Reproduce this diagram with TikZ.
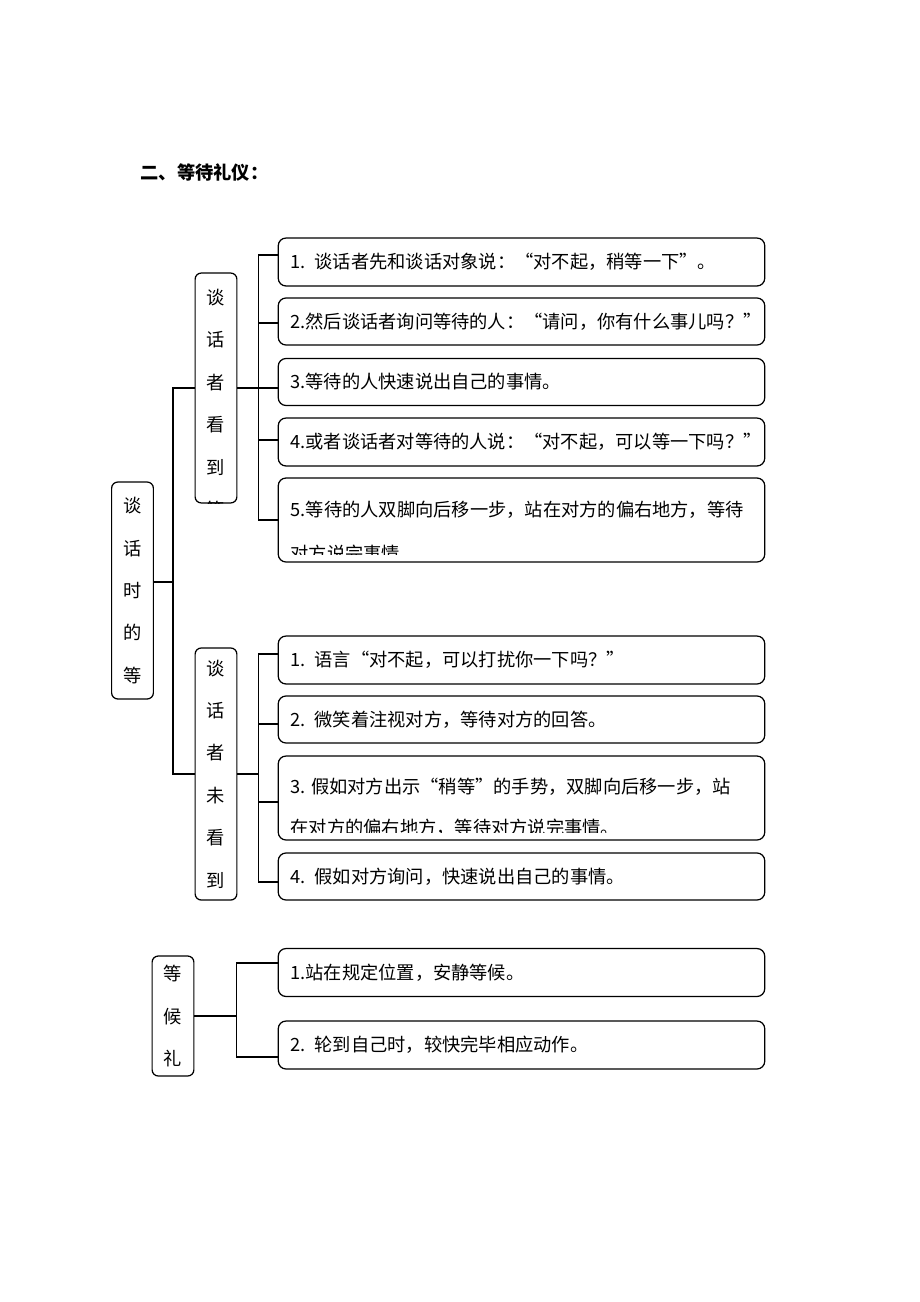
\documentclass[tikz,border=0pt]{standalone}
\usepackage{fontspec}
\newfontfamily\cjk{Noto Sans CJK SC}
\usetikzlibrary{positioning}

\tikzset{
  leaf/.style={draw, rounded corners=5pt, minimum height=31pt, inner xsep=7.8pt,
    inner ysep=0pt, text width=299pt, align=left, font=\cjk\fontsize{11.8}{14}\selectfont},
  vbox/.style={draw, rounded corners=4pt, minimum width=27pt, text width=14pt,
    inner xsep=0pt, align=center, font=\cjk\fontsize{11.8}{27.4}\selectfont},
  txt/.style={anchor=west, inner sep=0pt, font=\cjk\fontsize{11.8}{14}\selectfont}
}

\begin{document}
\begin{tikzpicture}[x=0.6467pt, y=-0.6467pt, line width=0.8pt]
\useasboundingbox (0,0) rectangle (920,1302);
\node[txt, font=\cjk\bfseries\fontsize{11.8}{14}\selectfont] (title) at (140,172) {二、等待礼仪：};

% left column
\node[vbox, minimum height=140.3pt] (root) at (132.5,590.5) {谈\\话\\时\\的\\等};
\node[vbox, minimum height=148.7pt] (vt1) at (216,388) {};
\begin{scope}
\clip (vt1.north west) rectangle (vt1.south east);
\node[vbox, draw=none] (vt1x) at (216,403.5) {谈\\话\\者\\看\\到\\等};
\end{scope}
\node[vbox, minimum height=163pt] (vt2) at (216,774) {谈\\话\\者\\未\\看\\到};
\node[vbox, minimum height=77.6pt] (vt3) at (173,1016) {等\\候\\礼};

% first group
\node[leaf] (a1) at (521.5,262) {1. 谈话者先和谈话对象说：“对不起，稍等一下”。};
\node[leaf, minimum height=30.4pt] (a2) at (521.5,321.5) {2.然后谈话者询问等待的人：“请问，你有什么事儿吗？”};
\node[leaf, minimum height=30.4pt] (a3) at (521.5,382) {3.等待的人快速说出自己的事情。};
\node[leaf] (a4) at (521.5,442) {4.或者谈话者对等待的人说：“对不起，可以等一下吗？”};
\node[leaf, minimum height=54.3pt] (a5) at (521.5,520) {};
\begin{scope}
\clip (a5.north west) rectangle ([yshift=5pt]a5.south east);
\node[txt] (a5x) at (290,510) {5.等待的人双脚向后移一步，站在对方的偏右地方，等待};
\node[txt] (a5y) at (290,553) {对方说完事情。};
\end{scope}

% second group
\node[leaf] (b1) at (521.5,660) {1. 语言“对不起，可以打扰你一下吗？”};
\node[leaf, minimum height=30.4pt] (b2) at (521.5,719.5) {2. 微笑着注视对方，等待对方的回答。};
\node[leaf, minimum height=54.3pt] (b3) at (521.5,798) {};
\begin{scope}
\clip (b3.north west) rectangle ([yshift=5pt]b3.south east);
\node[txt] (b3x) at (290,787) {3. 假如对方出示“稍等”的手势，双脚向后移一步，站};
\node[txt] (b3y) at (290,828) {在对方的偏右地方，等待对方说完事情。};
\end{scope}
\node[leaf, minimum height=30.4pt] (b4) at (521.5,876.5) {4. 假如对方询问，快速说出自己的事情。};

% third group
\node[leaf] (c1) at (521.5,972.5) {1.站在规定位置，安静等候。};
\node[leaf] (c2) at (521.5,1045) {2. 轮到自己时，较快完毕相应动作。};

% connectors
\coordinate (tr) at (173,582);
\draw (root.east |- tr) -- (tr);
\draw (vt1.west) -| (tr) |- (vt2.west);

\draw (vt1.east) -- ++(21,0) coordinate (ja) -- (a3.west |- ja);
\draw (a1.west |- 0,255) -| (ja) |- (a5.west);
\draw (ja) |- (a2.west |- 0,323);
\draw (ja) |- (a4.west |- 0,440);

\draw (vt2.east) -- ++(21,0) coordinate (jb);
\draw (b1.west |- 0,654) -| (jb) |- (b4.west |- 0,882);
\draw (jb) |- (b2.west |- 0,724);
\draw (jb) |- (b3.west |- 0,802);

\draw (vt3.east) -- ++(42,0) coordinate (jc);
\draw (c1.west |- 0,963) -| (jc) |- (c2.west |- 0,1057);
\end{tikzpicture}
\end{document}
